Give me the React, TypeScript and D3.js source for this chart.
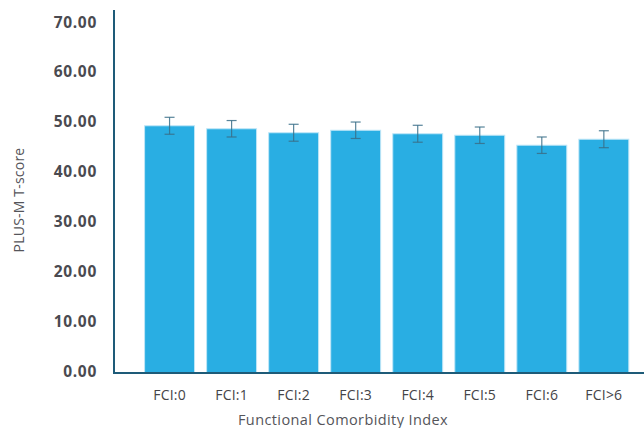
import React from "react";
import * as d3 from "d3";

const categories = ["FCI:0", "FCI:1", "FCI:2", "FCI:3", "FCI:4", "FCI:5", "FCI:6", "FCI>6"];
const means = [49.1, 48.5, 47.7, 48.2, 47.5, 47.2, 45.2, 46.4];
const errors = [1.7, 1.65, 1.7, 1.65, 1.7, 1.65, 1.65, 1.7];
const yTicks = [0, 10, 20, 30, 40, 50, 60, 70];
const xTitle = "Functional Comorbidity Index";
const yTitle = "PLUS-M T-score";

const W = 644;
const H = 428;
const axisX = 114;
const baseY = 373;

export default function App() {
  const y = d3.scaleLinear().domain([0, 70]).range([370.5, 21.6]);
  const x = d3
    .scaleBand<string>()
    .domain(categories)
    .range([axisX, 659.4])
    .paddingInner(0.195)
    .paddingOuter(0.493);
  const fmt = d3.format(".2f");
  const font = "'Open Sans', 'Noto Sans', sans-serif";

  return (
    <svg
      width={W}
      height={H}
      style={{ position: "absolute", left: 0, top: 0, background: "#fff" }}
    >
      {yTicks.map((t) => (
        <text
          key={t}
          x={97}
          y={y(t)}
          textAnchor="end"
          dominantBaseline="central"
          fontFamily={font}
          fontWeight={700}
          fontSize={15.5}
          letterSpacing={0.7}
          fill="#4a4a50"
        >
          {fmt(t)}
        </text>
      ))}
      {categories.map((c, i) => {
        const bx = x(c) as number;
        const bw = x.bandwidth();
        const cx = bx + bw / 2;
        const top = y(means[i] + errors[i]);
        const bot = y(means[i] - errors[i]);
        return (
          <g key={c}>
            <rect
              x={bx}
              y={y(means[i])}
              width={bw}
              height={baseY - y(means[i])}
              fill="#29aee3"
              stroke="#bfe6f7"
              strokeWidth={1}
            />
            <g stroke="#3a6f88" strokeWidth={1.2} strokeOpacity={0.85}>
              <line x1={cx} x2={cx} y1={top} y2={bot} />
              <line x1={cx - 5} x2={cx + 5} y1={top} y2={top} />
              <line x1={cx - 5} x2={cx + 5} y1={bot} y2={bot} />
            </g>
            <text
              x={cx}
              y={400}
              textAnchor="middle"
              fontFamily={font}
              fontSize={14}
              letterSpacing={0.2}
              fill="#444448"
            >
              {c}
            </text>
          </g>
        );
      })}
      <line x1={axisX} x2={axisX} y1={10} y2={baseY + 1} stroke="#1e5b78" strokeWidth={2} />
      <line x1={axisX - 1} x2={W} y1={baseY} y2={baseY} stroke="#1e5b78" strokeWidth={2} />
      <text
        x={343}
        y={425}
        textAnchor="middle"
        fontFamily={font}
        fontSize={14.5}
        letterSpacing={0.4}
        fill="#55555a"
      >
        {xTitle}
      </text>
      <text
        transform="translate(24,200) rotate(-90)"
        textAnchor="middle"
        fontFamily={font}
        fontSize={14}
        letterSpacing={0.2}
        fill="#55555a"
      >
        {yTitle}
      </text>
    </svg>
  );
}
